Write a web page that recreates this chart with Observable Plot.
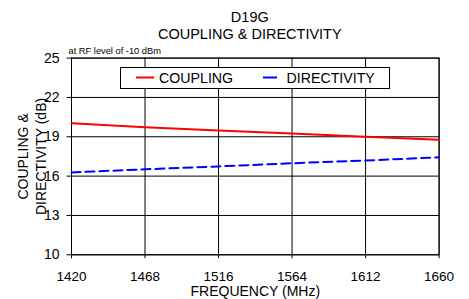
<!DOCTYPE html>
<html><head><meta charset="utf-8">
<script src="https://cdn.jsdelivr.net/npm/d3@7"></script>
<script src="https://cdn.jsdelivr.net/npm/@observablehq/plot@0.6"></script>
<style>
body{margin:0;background:#fff}
#wrap{position:relative;width:469px;height:299px;font-family:"Liberation Sans",Arial,sans-serif}
#legend{position:absolute;left:120px;top:67px}
</style></head>
<body><div id="wrap"></div>
<script>
const freqs = [1420, 1468, 1516, 1564, 1612, 1660];
const coupling = [20.04, 19.72, 19.48, 19.25, 19.0, 18.77];
const directivity = [16.28, 16.52, 16.74, 16.98, 17.19, 17.44];
const xTicks = [1420, 1468, 1516, 1564, 1612, 1660];
const yTicks = [10, 13, 16, 19, 22, 25];
const seriesNames = ["COUPLING", "DIRECTIVITY"];
const seriesColors = ["#ff0000", "#0000ff"];
const titleLines = ["D19G", "COUPLING & DIRECTIVITY"];
const note = "at RF level of -10 dBm";
const xLabel = "FREQUENCY (MHz)";
const yLabel = "COUPLING &\nDIRECTIVITY (dB)";

const rowsC = freqs.map((f, i) => ({f, v: coupling[i]}));
const rowsD = freqs.map((f, i) => ({f, v: directivity[i]}));
const font = '"Liberation Sans", Arial, sans-serif';

const chart = Plot.plot({
  width: 469, height: 299,
  marginLeft: 71, marginRight: 30.4, marginTop: 57.6, marginBottom: 44.7,
  style: {fontFamily: font, fontSize: "14px", color: "#000", background: "#fff"},
  x: {domain: [1420, 1660]},
  y: {domain: [10, 25]},
  marks: [
    Plot.gridX(xTicks, {stroke: "#000", strokeOpacity: 1}),
    Plot.gridY(yTicks, {stroke: "#000", strokeOpacity: 1}),
    Plot.frame({stroke: "#000"}),
    Plot.axisX({ticks: xTicks, tickSize: 4, tickPadding: 12.5, tickFormat: d => String(d), label: null, fontSize: 13.5}),
    Plot.axisY({ticks: yTicks, tickSize: 4.5, tickPadding: 7.5, label: null, fontSize: 14}),
    Plot.line(rowsC, {x: "f", y: "v", stroke: seriesColors[0], strokeWidth: 2}),
    Plot.line(rowsD, {x: "f", y: "v", stroke: seriesColors[1], strokeWidth: 2, strokeDasharray: "9,5"}),
    Plot.text([titleLines[0]], {frameAnchor: "top", text: d => d, dy: -40.3, dx: -5.5, lineAnchor: "middle", fontSize: 14.5}),
    Plot.text([titleLines[1]], {frameAnchor: "top", text: d => d, dy: -23.3, dx: -5.5, lineAnchor: "middle", fontSize: 14.5}),
    Plot.text([note], {frameAnchor: "top-left", text: d => d, dx: -3, dy: -4, lineAnchor: "bottom", textAnchor: "start", fontSize: 9.3}),
    Plot.text([xLabel], {frameAnchor: "bottom", text: d => d, dy: 37, lineAnchor: "middle", fontSize: 14}),
    Plot.text([yLabel], {frameAnchor: "left", text: d => d, dx: -40, dy: 0, rotate: -90, lineAnchor: "middle", textAnchor: "middle", fontSize: 14, lineHeight: 1.29})
  ]
});
const wrap = document.getElementById("wrap");
wrap.appendChild(chart);

// legend
const lg = d3.select(wrap).append("svg").attr("id", "legend").attr("width", 271).attr("height", 23);
lg.append("rect").attr("x", 0.5).attr("y", 0.5).attr("width", 269).attr("height", 21).attr("fill", "#fff").attr("stroke", "#000");
const items = [{x0: 16, x1: 34, tx: 39}, {x0: 143, x1: 157, tx: 166.5}];
seriesNames.forEach((name, i) => {
  lg.append("line").attr("x1", items[i].x0).attr("x2", items[i].x1).attr("y1", 10.5).attr("y2", 10.5)
    .attr("stroke", seriesColors[i]).attr("stroke-width", 2);
  lg.append("text").attr("x", items[i].tx).attr("y", 15.5).attr("font-family", font).attr("font-size", 14.2).text(name);
});
</script>
</body></html>
